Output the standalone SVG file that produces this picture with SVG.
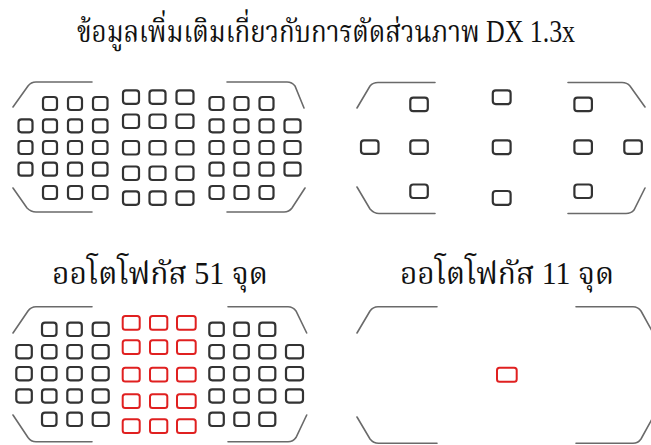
<svg xmlns="http://www.w3.org/2000/svg" width="651" height="445" viewBox="0 0 651 445">
<style>
.t{font-family:"Liberation Serif","Noto Serif Thai","Noto Sans Thai","DejaVu Serif",serif;fill:#111;text-anchor:middle}
.br{fill:none;stroke:#6a6a6a;stroke-width:1.6;stroke-linecap:round}
.b{fill:none;stroke:#333;stroke-width:2.2}
.r{fill:none;stroke:#e02020;stroke-width:2}
</style>
<rect width="651" height="445" fill="#fff"/>
<text class="t" x="326" y="42" font-size="31" textLength="498" lengthAdjust="spacingAndGlyphs">ข้อมูลเพิ่มเติมเกี่ยวกับการตัดส่วนภาพ DX 1.3x</text>
<text class="t" x="160" y="284" font-size="31" textLength="216" lengthAdjust="spacingAndGlyphs">ออโตโฟกัส 51 จุด</text>
<text class="t" x="507" y="284" font-size="31" textLength="214" lengthAdjust="spacingAndGlyphs">ออโตโฟกัส 11 จุด</text>

<g id="panel-tl">
<path class="br" d="M13,107 L28,86 Q31,82 36,82 L92,82 M227,82 L287,82 Q292,82 295,86 L304,108 M13,188 L27,208 Q31,212 36,212 L92,212 M227,212 L284,212 Q289,212 292,208 L305,188"/>
<g class="b">
<rect x="43" y="97" width="14" height="13" rx="3"/><rect x="68" y="97" width="14" height="13" rx="3"/><rect x="93" y="97" width="14.5" height="13" rx="3"/>
<rect x="18.5" y="119.3" width="14" height="13" rx="3"/><rect x="43" y="119.3" width="14" height="13" rx="3"/><rect x="68" y="119.3" width="14" height="13" rx="3"/><rect x="93" y="119.3" width="14.5" height="13" rx="3"/>
<rect x="18.5" y="141" width="14" height="13" rx="3"/><rect x="43" y="141" width="14" height="13" rx="3"/><rect x="68" y="141" width="14" height="13" rx="3"/><rect x="93" y="141" width="14.5" height="13" rx="3"/>
<rect x="18.5" y="162.7" width="14" height="13" rx="3"/><rect x="43" y="162.7" width="14" height="13" rx="3"/><rect x="68" y="162.7" width="14" height="13" rx="3"/><rect x="93" y="162.7" width="14.5" height="13" rx="3"/>
<rect x="43" y="186" width="14" height="13" rx="3"/><rect x="68" y="186" width="14" height="13" rx="3"/><rect x="93" y="186" width="14.5" height="13" rx="3"/>
<rect x="123" y="90.3" width="16" height="13.5" rx="3"/><rect x="149.5" y="90.3" width="16" height="13.5" rx="3"/><rect x="176.5" y="90.3" width="17" height="13.5" rx="3"/>
<rect x="123" y="114.5" width="16" height="13.5" rx="3"/><rect x="149.5" y="114.5" width="16" height="13.5" rx="3"/><rect x="176.5" y="114.5" width="17" height="13.5" rx="3"/>
<rect x="123" y="141" width="16" height="13.5" rx="3"/><rect x="149.5" y="141" width="16" height="13.5" rx="3"/><rect x="176.5" y="141" width="17" height="13.5" rx="3"/>
<rect x="123" y="166.5" width="16" height="13.5" rx="3"/><rect x="149.5" y="166.5" width="16" height="13.5" rx="3"/><rect x="176.5" y="166.5" width="17" height="13.5" rx="3"/>
<rect x="123" y="191.3" width="16" height="13.5" rx="3"/><rect x="149.5" y="191.3" width="16" height="13.5" rx="3"/><rect x="176.5" y="191.3" width="17" height="13.5" rx="3"/>
<rect x="209.5" y="97" width="14" height="13" rx="3"/><rect x="234.5" y="97" width="14" height="13" rx="3"/><rect x="259.5" y="97" width="14" height="13" rx="3"/>
<rect x="209.5" y="119.3" width="14" height="13" rx="3"/><rect x="234.5" y="119.3" width="14" height="13" rx="3"/><rect x="259.5" y="119.3" width="14" height="13" rx="3"/><rect x="284.5" y="119.3" width="16" height="13" rx="3"/>
<rect x="209.5" y="141" width="14" height="13" rx="3"/><rect x="234.5" y="141" width="14" height="13" rx="3"/><rect x="259.5" y="141" width="14" height="13" rx="3"/><rect x="284.5" y="141" width="16" height="13" rx="3"/>
<rect x="209.5" y="162.7" width="14" height="13" rx="3"/><rect x="234.5" y="162.7" width="14" height="13" rx="3"/><rect x="259.5" y="162.7" width="14" height="13" rx="3"/><rect x="284.5" y="162.7" width="16" height="13" rx="3"/>
<rect x="209.5" y="186" width="14" height="13" rx="3"/><rect x="234.5" y="186" width="14" height="13" rx="3"/><rect x="259.5" y="186" width="14" height="13" rx="3"/>
</g>
</g>

<g id="panel-tr">
<path class="br" d="M357,108 L370,86 Q373,82.5 378,82.5 L435,82.5 M568,82.5 L622,82.5 Q627,82.5 630,86 L645,107 M357,187 L370,209 Q374,213.5 379,213.5 L435,213.5 M568,213.5 L626,213.5 Q631,213.5 634,210 L645,188"/>
<g class="b">
<rect x="361" y="140.3" width="17.5" height="13.5" rx="3"/>
<rect x="410.3" y="97.7" width="17.5" height="13.5" rx="3"/><rect x="410.3" y="140.3" width="17.5" height="13.5" rx="3"/><rect x="410.3" y="184.5" width="17.5" height="13.5" rx="3"/>
<rect x="492.8" y="90.3" width="17.8" height="13.8" rx="3"/><rect x="492.8" y="140.3" width="17.8" height="13.8" rx="3"/><rect x="492.8" y="191" width="17.8" height="13.8" rx="3"/>
<rect x="574.4" y="97.7" width="17.5" height="13.5" rx="3"/><rect x="574.4" y="140.3" width="17.5" height="13.5" rx="3"/><rect x="574.4" y="184.5" width="17.5" height="13.5" rx="3"/>
<rect x="624.3" y="140.3" width="17.5" height="13.5" rx="3"/>
</g>
</g>

<g id="panel-bl">
<path class="br" d="M13,333 L28,311 Q31,306.7 36,306.7 L92,306.7 M228,306.7 L288,306.7 Q293,306.7 296,311 L306.7,333 M13,415 L28,437.5 Q31,441.7 36,441.7 L92,441.7 M228,441.7 L288,441.7 Q293,441.7 296,437.5 L306.7,415"/>
<g class="b">
<rect x="42" y="322.7" width="14.5" height="13.3" rx="3"/><rect x="67.3" y="322.7" width="14.5" height="13.3" rx="3"/><rect x="92.7" y="322.7" width="16" height="13.3" rx="3"/>
<rect x="16.3" y="345" width="15.5" height="13.3" rx="3"/><rect x="42" y="345" width="14.5" height="13.3" rx="3"/><rect x="67.3" y="345" width="14.5" height="13.3" rx="3"/><rect x="92.7" y="345" width="16" height="13.3" rx="3"/>
<rect x="16.3" y="367" width="15.5" height="13.3" rx="3"/><rect x="42" y="367" width="14.5" height="13.3" rx="3"/><rect x="67.3" y="367" width="14.5" height="13.3" rx="3"/><rect x="92.7" y="367" width="16" height="13.3" rx="3"/>
<rect x="16.3" y="389.3" width="15.5" height="13.3" rx="3"/><rect x="42" y="389.3" width="14.5" height="13.3" rx="3"/><rect x="67.3" y="389.3" width="14.5" height="13.3" rx="3"/><rect x="92.7" y="389.3" width="16" height="13.3" rx="3"/>
<rect x="42" y="412.7" width="14.5" height="13.3" rx="3"/><rect x="67.3" y="412.7" width="14.5" height="13.3" rx="3"/><rect x="92.7" y="412.7" width="16" height="13.3" rx="3"/>
<rect x="209.3" y="322.7" width="14.5" height="13.3" rx="3"/><rect x="234.3" y="322.7" width="14.5" height="13.3" rx="3"/><rect x="259.3" y="322.7" width="16" height="13.3" rx="3"/>
<rect x="209.3" y="345" width="14.5" height="13.3" rx="3"/><rect x="234.3" y="345" width="14.5" height="13.3" rx="3"/><rect x="259.3" y="345" width="16" height="13.3" rx="3"/><rect x="286" y="345" width="17" height="13.3" rx="3"/>
<rect x="209.3" y="367" width="14.5" height="13.3" rx="3"/><rect x="234.3" y="367" width="14.5" height="13.3" rx="3"/><rect x="259.3" y="367" width="16" height="13.3" rx="3"/><rect x="286" y="367" width="17" height="13.3" rx="3"/>
<rect x="209.3" y="389.3" width="14.5" height="13.3" rx="3"/><rect x="234.3" y="389.3" width="14.5" height="13.3" rx="3"/><rect x="259.3" y="389.3" width="16" height="13.3" rx="3"/><rect x="286" y="389.3" width="17" height="13.3" rx="3"/>
<rect x="209.3" y="412.7" width="14.5" height="13.3" rx="3"/><rect x="234.3" y="412.7" width="14.5" height="13.3" rx="3"/><rect x="259.3" y="412.7" width="16" height="13.3" rx="3"/>
</g>
<g class="r">
<rect x="122.7" y="316" width="17" height="13.7" rx="2.5"/><rect x="150" y="316" width="17.3" height="13.7" rx="2.5"/><rect x="177" y="316" width="18.7" height="13.7" rx="2.5"/>
<rect x="122.7" y="340.3" width="17" height="13.7" rx="2.5"/><rect x="150" y="340.3" width="17.3" height="13.7" rx="2.5"/><rect x="177" y="340.3" width="18.7" height="13.7" rx="2.5"/>
<rect x="122.7" y="367.7" width="17" height="13.7" rx="2.5"/><rect x="150" y="367.7" width="17.3" height="13.7" rx="2.5"/><rect x="177" y="367.7" width="18.7" height="13.7" rx="2.5"/>
<rect x="122.7" y="394.3" width="17" height="13.7" rx="2.5"/><rect x="150" y="394.3" width="17.3" height="13.7" rx="2.5"/><rect x="177" y="394.3" width="18.7" height="13.7" rx="2.5"/>
<rect x="122.7" y="419.3" width="17" height="13.7" rx="2.5"/><rect x="150" y="419.3" width="17.3" height="13.7" rx="2.5"/><rect x="177" y="419.3" width="18.7" height="13.7" rx="2.5"/>
</g>
</g>

<g id="panel-br">
<path class="br" d="M357,333 L370,311 Q373,306.7 378,306.7 L437,306.7 M576,306.7 L633,306.7 Q638,306.7 641,311 L652,331 M357,417 L370,439 Q373.5,443.3 378.5,443.3 L437,443.3 M576,443.3 L633,443.3 Q638,443.3 641,439 L652,419"/>
<rect class="r" x="497" y="367.7" width="19.7" height="14" rx="2.5"/>
</g>
</svg>
